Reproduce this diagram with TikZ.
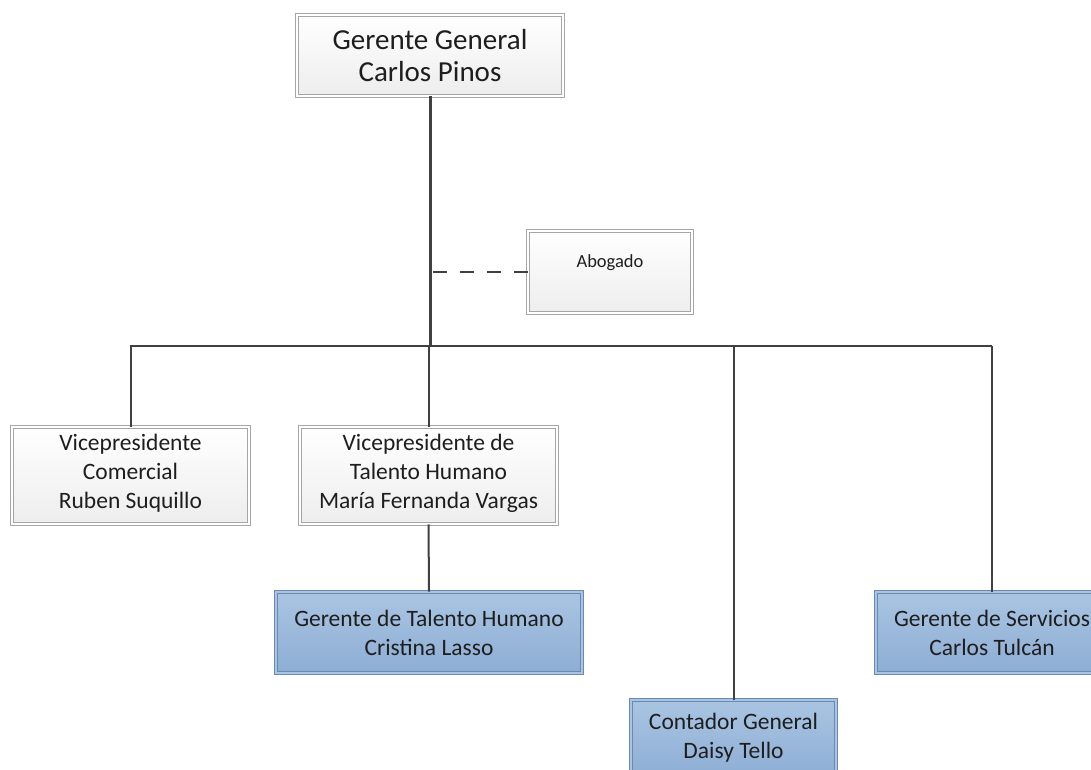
\documentclass[tikz,border=0pt]{standalone}
\usepackage{fontspec}
\setmainfont{Carlito}
\definecolor{boxgray}{HTML}{A6A6A6}
\definecolor{txt}{HTML}{1E1E1E}
\definecolor{linegray}{HTML}{404040}
\definecolor{blueTop}{HTML}{AAC5E3}
\definecolor{blueBot}{HTML}{8DADD4}
\definecolor{blueBorder}{HTML}{6A8AB2}
\begin{document}
\begin{tikzpicture}[x=1pt,y=-1pt,
  box/.style={draw=boxgray, double=white, double distance=1.6pt, line width=0.8pt,
    top color=white, bottom color=gray!14, inner sep=0pt, align=center, text=txt},
  bluebox/.style={box, draw=blueBorder, top color=blueTop, bottom color=blueBot, double=blueTop},
  big/.style={font=\fontsize{29}{32}\selectfont},
  mid/.style={font=\fontsize{23.5}{29}\selectfont},
  conn/.style={draw=linegray, line width=2pt}]
\useasboundingbox (0,0) rectangle (1091,769);
\clip (0,0) rectangle (1091,769);

\node[box, big, minimum width=266pt, minimum height=81pt] (gg) at (430,55.5) {Gerente General\\Carlos Pinos};
\node[box, font=\fontsize{18.5}{21}\selectfont, text depth=22pt, minimum width=164pt, minimum height=82pt] (abog) at (610,272) {Abogado};
\node[box, mid, minimum width=237pt, minimum height=97pt] (vc) at (130.5,475.5) {Vicepresidente\\Comercial\\Ruben Suquillo\\[-21pt]\mbox{}};
\node[box, mid, minimum width=257pt, minimum height=97pt] (vth) at (428.5,475.5) {Vicepresidente de\\Talento Humano\\María Fernanda Vargas\\[-21pt]\mbox{}};
\node[bluebox, mid, minimum width=306pt, minimum height=81pt] (gth) at (429,632.5) {Gerente de Talento Humano\\Cristina Lasso};
\node[bluebox, mid, minimum width=232pt, minimum height=81pt] (gs) at (992,632.5) {Gerente de Servicios\\Carlos Tulcán};
\node[bluebox, mid, minimum width=205pt, minimum height=78pt] (cg) at (733.5,739) {Contador General\\Daisy Tello\\[-23pt]\mbox{}};

\coordinate (bL) at (130,346);
\coordinate (bR) at (992,346);
\coordinate (bM) at (430,346);
\coordinate (dj) at (430,272);

\draw[conn] (bL) -- (bR);
\draw[conn, line width=3pt] (gg.south) -- (bM);
\draw[conn, line width=2.5pt, dash pattern=on 14pt off 13pt] ([xshift=3pt]dj) -- (abog.west);
\draw[conn] (vc.north) -- (vc.north |- bL);
\draw[conn] (vth.north) -- (vth.north |- bL);
\draw[conn] (vth.south) -- (gth.north);
\draw[conn] (cg.north) -- (cg.north |- bL);
\draw[conn] (gs.north) -- (gs.north |- bL);
\end{tikzpicture}
\end{document}
